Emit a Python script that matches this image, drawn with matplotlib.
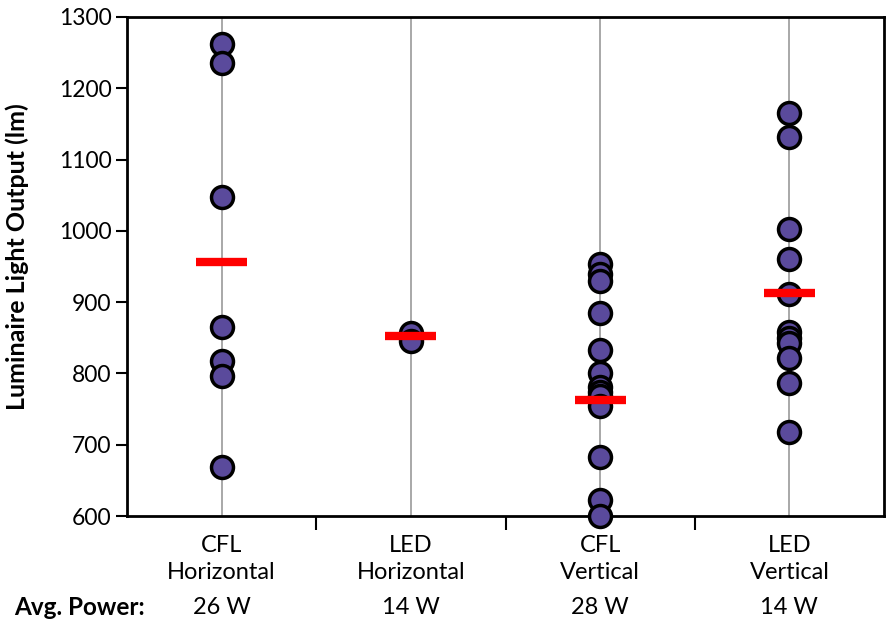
import matplotlib.pyplot as plt
from matplotlib import transforms

# categorias e dados (lm)
categories = ['CFL\nHorizontal', 'LED\nHorizontal', 'CFL\nVertical', 'LED\nVertical']
avg_power = ['26 W', '14 W', '28 W', '14 W']

cfl_horizontal = [1262, 1235, 1048, 865, 818, 796, 669]
led_horizontal = [857, 846]
cfl_vertical = [954, 940, 929, 885, 833, 800, 781, 774, 768, 755, 683, 622, 600]
led_vertical = [1165, 1131, 1002, 960, 911, 858, 849, 842, 821, 787, 718]
means = [956, 852, 763, 913]

groups = [cfl_horizontal, led_horizontal, cfl_vertical, led_vertical]

plt.rcParams['font.family'] = ['Lato', 'DejaVu Sans']

fig = plt.figure(figsize=(8.9, 6.22), dpi=100)
ax = fig.add_axes([0.1427, 0.1704, 0.8506, 0.8023])

# linhas verticais de grade em cada categoria
for i in range(len(categories)):
    ax.axvline(i, color='#999999', lw=1.2, zorder=1)

# pontos individuais
for i, vals in enumerate(groups):
    ax.scatter([i] * len(vals), vals, s=250, color='#5a4a9c',
               edgecolor='black', linewidth=2.5, zorder=3, clip_on=False)

# médias em vermelho
for i, m in enumerate(means):
    ax.plot([i - 0.135, i + 0.135], [m, m], color='#ff0000', lw=6,
            solid_capstyle='butt', zorder=4)

ax.set_xlim(-0.5, 3.5)
ax.set_ylim(600, 1300)
ax.set_yticks(range(600, 1301, 100))
ax.tick_params(axis='y', labelsize=16.5, length=8, width=1.5, pad=3)

# ticks do eixo x nas divisões, rótulos no centro
ax.set_xticks([0.5, 1.5, 2.5])
ax.set_xticklabels([])
ax.set_xticks(range(len(categories)), minor=True)
ax.set_xticklabels(categories, minor=True, fontsize=17, linespacing=1.3)
ax.tick_params(axis='x', which='major', length=10, width=1.5)
ax.tick_params(axis='x', which='minor', length=0, pad=14)

for side in ['left', 'right', 'top', 'bottom']:
    ax.spines[side].set_linewidth(2)

ax.set_ylabel('Luminaire Light Output (lm)', fontsize=18, fontweight='bold')
ax.yaxis.set_label_coords(-0.13, 0.52)

# linha de potência média
trans = transforms.blended_transform_factory(ax.transData, fig.transFigure)
for i, p in enumerate(avg_power):
    ax.text(i, 0.024, p, transform=trans, ha='center', va='center', fontsize=17)
fig.text(0.016, 0.024, 'Avg. Power:', ha='left', va='center', fontsize=17.5,
         fontweight='bold')

fig.savefig('out.png', dpi=100)
